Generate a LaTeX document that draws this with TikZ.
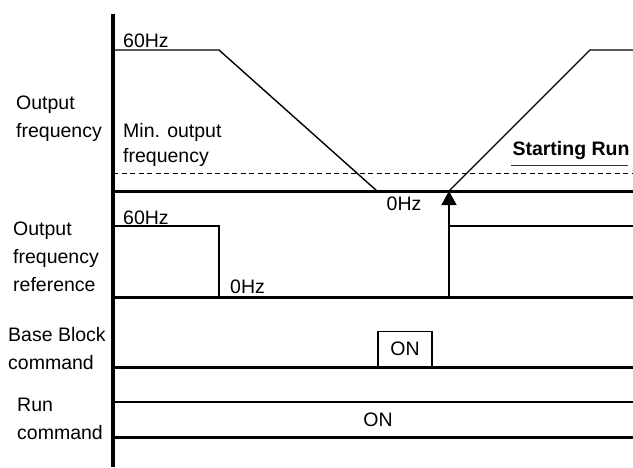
\documentclass[tikz,border=0pt]{standalone}
\usepackage{fontspec}
\setmainfont{Liberation Sans}
\usetikzlibrary{positioning, arrows.meta}

\begin{document}
\begin{tikzpicture}[x=1pt, y=-1pt, >={Triangle[length=14pt, width=15pt]},
  axis/.style={line width=3pt},
  sig/.style={line width=1.4pt},
  lbl/.style={align=left, anchor=west, inner sep=0pt, font=\fontsize{19.5}{28}\selectfont},
  txt/.style={inner sep=0pt, font=\fontsize{19.5}{22}\selectfont}]
  \useasboundingbox (0,0) rectangle (633,467);

  \coordinate (top) at (113,14);
  \coordinate (bot) at (113,467);
  \coordinate (f0) at (113,191);
  \coordinate (f0e) at (633,191);
  \coordinate (fmin) at (113,173);
  \coordinate (fmine) at (633,173);
  \coordinate (r0) at (113,297);
  \coordinate (r0e) at (633,297);
  \coordinate (b0) at (113,367);
  \coordinate (b0e) at (633,367);
  \coordinate (c1) at (113,402);
  \coordinate (c1e) at (633,402);
  \coordinate (c0) at (113,437);
  \coordinate (c0e) at (633,437);

  % labels
  \node[lbl] (lout) at (16,119) {Output\\frequency};
  \node[lbl] (lref) at (13,257) {Output\\frequency\\reference};
  \node[lbl] (lbb) at (8,349) {Base Block\\command};
  \node[lbl] (lrun) at (17,419) {Run\\command};

  % output frequency
  \coordinate (a1) at (113,50);
  \coordinate (a2) at (219,50);
  \coordinate (a3) at (377,191);
  \coordinate (a4) at (449,191);
  \coordinate (a5) at (590,50);
  \coordinate (a6) at (633,50);
  \node[txt, anchor=west] (hz60) at (123,41) {60Hz};
  \node[lbl, font=\fontsize{19.5}{25}\selectfont] (fmintxt) at (123,145) {Min. output\\frequency};
  \node[txt] (hz0) at (404,204) {0Hz};
  \node[txt, font=\fontsize{19.5}{22}\selectfont\bfseries] (start) at (571,150) {Starting Run};
  \coordinate (ul1) at (511,165);
  \coordinate (ul2) at (628,165);
  \draw[sig] (a1) -- (a2) -- (a3);
  \draw[sig] (a4) -- (a5) -- (a6);
  \draw[line width=1pt, dash pattern=on 5pt off 3.5pt] (fmin) -- (fmine);
  \draw[line width=0.9pt, black!80] (ul1) -- (ul2);

  % frequency reference
  \coordinate (s1) at (113,226);
  \coordinate (s2) at (219,226);
  \coordinate (s3) at (219,297);
  \coordinate (s4) at (449,297);
  \coordinate (s5) at (449,226);
  \coordinate (s6) at (633,226);
  \node[txt, anchor=west] (ref60) at (123,218) {60Hz};
  \node[txt, anchor=west] (ref0) at (230,287) {0Hz};
  \draw[sig] (s1) -- (s2) -- (s3);
  \draw[sig] (s5) -- (s6);
  \draw[sig, ->] (s4) -- (a4);

  % base block and run
  \node[txt, draw, line width=1.4pt, minimum width=54pt, minimum height=35pt, anchor=south] (bbon) at (405,367) {ON};
  \node[txt] (runon) at (378,420) {ON};
  \draw[line width=1.2pt] (c1) -- (c1e);

  \draw[axis] (f0) -- (f0e);
  \draw[axis] (r0) -- (r0e);
  \draw[axis] (b0) -- (b0e);
  \draw[axis] (c0) -- (c0e);
  \draw[axis, line width=3.5pt] (top) -- (bot);
\end{tikzpicture}
\end{document}
